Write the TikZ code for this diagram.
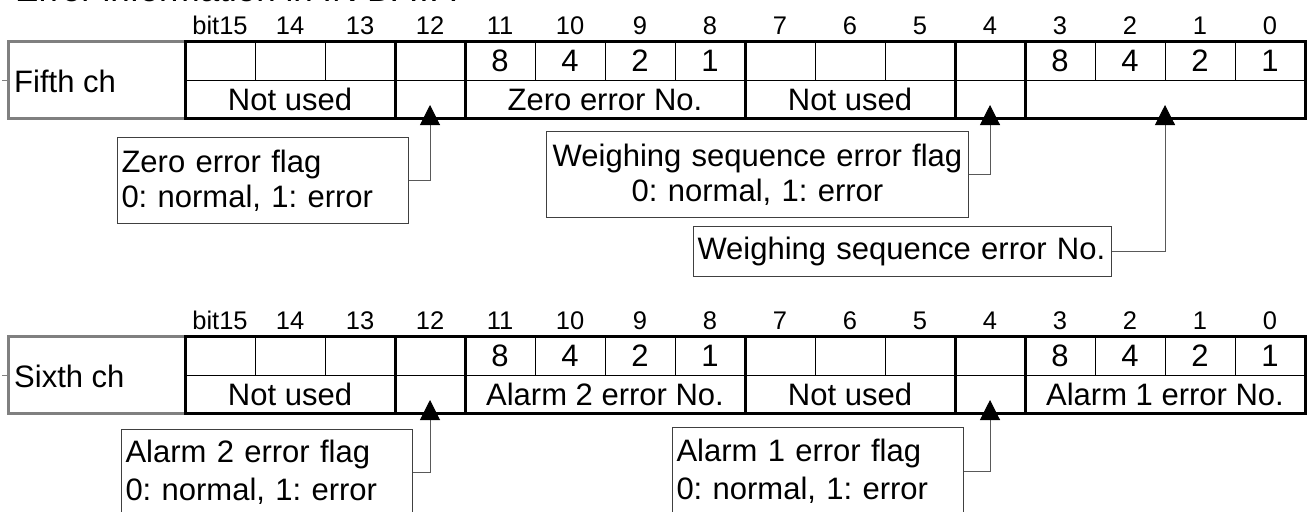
\documentclass[tikz,border=0pt]{standalone}
\usepackage{fontspec}
\setmainfont{Liberation Sans}
\usetikzlibrary{arrows.meta}
\tikzset{
  thickline/.style={line width=3pt},
  thinline/.style={line width=1pt},
  bitnum/.style={font=\fontsize{25.5}{28}\selectfont, inner sep=0pt},
  celltext/.style={font=\fontsize{31}{35}\selectfont, inner sep=0pt},
  chbox/.style={draw=black!50, line width=3pt},
  flagbox/.style={draw=black!75, line width=1pt, anchor=north west, inner xsep=4pt, inner ysep=0pt, font=\fontsize{31}{35}\selectfont},
  alarmbox/.style={flagbox, font=\fontsize{31}{38}\selectfont},
  conn/.style={draw=black!65, line width=1pt, -{Triangle[length=20pt,width=20pt,color=black]}},
}

\begin{document}
\frenchspacing
\begin{tikzpicture}[x=1pt,y=-1pt]
\path[use as bounding box, fill=white] (0,0) rectangle (1308,511);

\node[anchor=base west, inner sep=0pt, font=\fontsize{35}{35}\selectfont] (title) at (15,2) {Error information in IN DATA};

\foreach \t/\ch/\nA/\nB in {0/Fifth/{Zero error No.}/{}, 295/Sixth/{Alarm 2 error No.}/{Alarm 1 error No.}}{
\begin{scope}[yshift=-\t pt]
  % channel label
  \draw[chbox] (8,41.5) rectangle (185,118.5);
  \draw[black!50, thinline] (2,80) -- (8,80);
  \node[celltext, anchor=west] (ch\ch) at (14,81) {\ch{} ch};
  % bit numbers
  \foreach \i in {0,...,15}{
    \pgfmathtruncatemacro\b{15-\i}
    \node[bitnum] (b\ch\i) at (220+70*\i,25.5) {\ifnum\i=0 bit\fi\b};
  }
  \draw[thinline] (185,80) -- (1305,80);
  \foreach \i in {1,2,5,6,7,9,10,13,14,15}
    \draw[thinline] (185+70*\i,41.5) -- (185+70*\i,80);
  \foreach \i in {3,4,8,11,12}
    \draw[thickline] (185+70*\i,41.5) -- (185+70*\i,118.5);
  \draw[thickline] (185,41.5) rectangle (1305,118.5);
  % weights
  \foreach \w [count=\k from 4] in {8,4,2,1}{
    \node[celltext] (w\ch\k) at (185+70*\k+35,61) {\w};
    \node[celltext] (v\ch\k) at (185+70*\k+595,61) {\w};
  }
  \node[celltext] (nu\ch) at (290,99.5) {Not used};
  \node[celltext] (na\ch) at (605,99.5) {\nA};
  \node[celltext] (nv\ch) at (850,99.5) {Not used};
  \node[celltext] (nb\ch) at (1165,99.5) {\nB};
\end{scope}
}

% fifth ch notes
\node[flagbox, minimum width=291pt, minimum height=86pt, text width=283pt, align=left] (zeroflag) at (117,137) {Zero error flag\\0: normal, 1: error};
\node[flagbox, minimum width=422pt, minimum height=86pt, text width=414pt, align=center] (seqflag) at (546,131) {Weighing sequence error flag\\0: normal, 1: error};
\node[flagbox, minimum width=418pt, minimum height=50pt, text width=410pt, align=left] (seqno) at (693,226) {Weighing sequence error No.};

% sixth ch notes
\node[alarmbox, minimum width=291pt, minimum height=86pt, text width=283pt, align=left] (alarmtwo) at (121,429) {Alarm 2 error flag\\0: normal, 1: error};
\node[alarmbox, minimum width=291pt, minimum height=88pt, text width=283pt, align=left] (alarmone) at (672,427) {Alarm 1 error flag\\0: normal, 1: error};

\coordinate (tipZ) at (430,105);
\coordinate (tipW) at (990,105);
\coordinate (tipN) at (1165,105);
\coordinate (tipB) at (430,400);
\coordinate (tipA) at (990,400);

\draw[conn] (zeroflag.east) -| (tipZ);
\draw[conn] (seqflag.east) -| (tipW);
\draw[conn] (seqno.east) -| (tipN);
\draw[conn] (alarmtwo.east) -| (tipB);
\draw[conn] (alarmone.east) -| (tipA);
\end{tikzpicture}
\end{document}
